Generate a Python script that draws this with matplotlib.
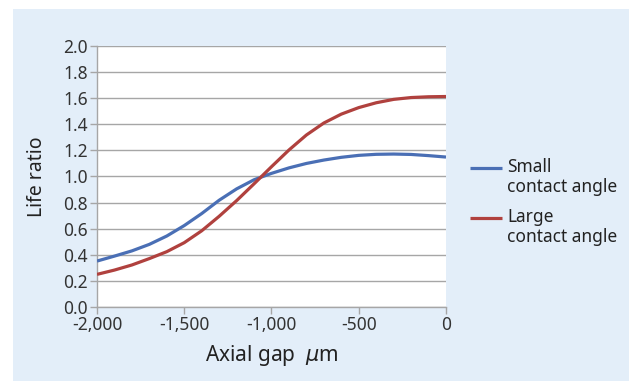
import matplotlib
matplotlib.use("Agg")
import matplotlib.pyplot as plt
from matplotlib.lines import Line2D
from matplotlib.patches import Rectangle
from matplotlib.ticker import FuncFormatter, MultipleLocator

plt.rcParams["font.family"] = ["Noto Sans", "DejaVu Sans"]
plt.rcParams["axes.unicode_minus"] = False

# Axial gap (um) and life ratio for the two bearing designs
axial_gap = [-2000, -1900, -1800, -1700, -1600, -1500, -1400, -1300, -1200, -1100,
             -1000, -900, -800, -700, -600, -500, -400, -300, -200, -100, 0]
small_angle = [0.352, 0.39, 0.43, 0.48, 0.544, 0.624, 0.716, 0.818, 0.905, 0.975,
               1.024, 1.066, 1.10, 1.126, 1.147, 1.162, 1.17, 1.172, 1.169, 1.16, 1.149]
large_angle = [0.25, 0.283, 0.322, 0.371, 0.424, 0.493, 0.584, 0.695, 0.815, 0.944,
               1.075, 1.203, 1.318, 1.41, 1.478, 1.528, 1.565, 1.591, 1.605, 1.611, 1.613]
series_labels = ["Small\ncontact angle", "Large\ncontact angle"]
series_colors = ["#4A6FB5", "#B0413E"]

W, H = 629, 381
fig = plt.figure(figsize=(W / 100, H / 100), dpi=100)
fig.patch.set_facecolor("white")

# light blue panel behind the chart
fig.add_artist(Rectangle((13 / W, 0), 1 - 13 / W, 1 - 9 / H,
                         transform=fig.transFigure, facecolor="#E3EEF9",
                         edgecolor="none", zorder=0))

ax = fig.add_axes([97 / W, 1 - 307 / H, (446 - 97) / W, (307 - 46) / H])
ax.set_facecolor("white")

for y, c in zip([small_angle, large_angle], series_colors):
    ax.plot(axial_gap, y, color=c, lw=2.3, solid_capstyle="butt",
            solid_joinstyle="round", zorder=3)

ax.set_xlim(-2000, 0)
ax.set_ylim(0, 2.0)
ax.xaxis.set_major_locator(MultipleLocator(500))
ax.yaxis.set_major_locator(MultipleLocator(0.2))
ax.xaxis.set_major_formatter(FuncFormatter(lambda v, p: f"{v:,.0f}"))
ax.yaxis.set_major_formatter(FuncFormatter(lambda v, p: f"{v:.1f}"))

ax.grid(axis="y", color="#A6A6A6", lw=1.0)
ax.set_axisbelow(True)
for s in ["top", "right"]:
    ax.spines[s].set_visible(False)
for s in ["left", "bottom"]:
    ax.spines[s].set_color("#A6A6A6")
    ax.spines[s].set_linewidth(1.0)
ax.tick_params(axis="both", color="#A6A6A6", length=5, width=1.0,
               labelsize=12.5, labelcolor="#333333")
ax.tick_params(axis="y", pad=1.5)
ax.tick_params(axis="x", pad=1.5)

ax.set_ylabel("Life ratio", fontsize=14, color="#222222", va="center")
ax.yaxis.set_label_coords(-60 / 349, 0.5)
ax.set_xlabel("Axial gap  $\\mu$m", fontsize=15, color="#222222", va="center")
ax.xaxis.set_label_coords(0.5, -48 / 261)

# legend entries: handle aligned with the first line of each label
legend_rows = [168, 218]
for row, lab, c in zip(legend_rows, series_labels, series_colors):
    yf = 1 - row / H
    fig.add_artist(Line2D([470 / W, 502 / W], [yf, yf], transform=fig.transFigure,
                          color=c, lw=2.3, solid_capstyle="butt"))
    fig.text(507 / W, yf + 10 / H, lab, ha="left", va="top", fontsize=12.5,
             color="#222222", linespacing=1.15)

fig.savefig("out.png", dpi=100)
